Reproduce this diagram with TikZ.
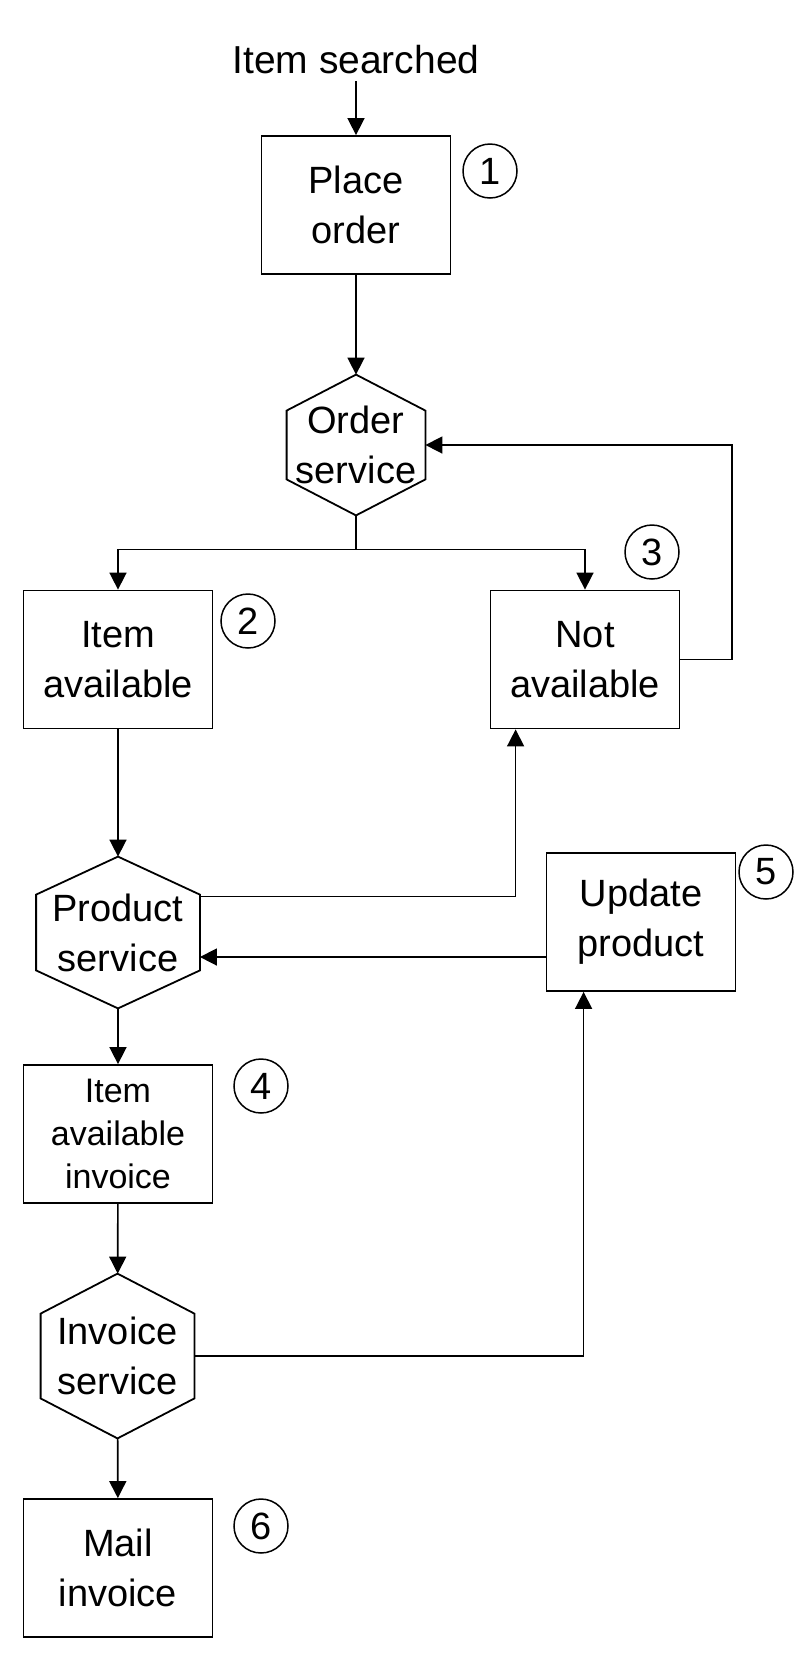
\documentclass[tikz,border=0pt]{standalone}
\usepackage{fontspec}
\setmainfont{Liberation Sans}
\usetikzlibrary{positioning,arrows.meta}

\newcommand{\hexoutline}[2]{%
  \draw[line width=0.9pt] (#1.north) -- ([yshift=-#2]#1.north east) -- ([yshift=#2]#1.south east)
    -- (#1.south) -- ([yshift=#2]#1.south west) -- ([yshift=-#2]#1.north west) -- cycle;}

\begin{document}
\begin{tikzpicture}[x=0.5pt, y=-0.5pt,
  box/.style={draw, line width=0.9pt, minimum width=94.5pt, minimum height=69pt,
              align=center, font=\fontsize{19}{25}\selectfont},
  hexa/.style={align=center, inner sep=0pt, font=\fontsize{19}{25}\selectfont},
  num/.style={draw, circle, line width=0.75pt, minimum size=27pt, inner sep=0pt,
              font=\fontsize{19}{19}\selectfont},
  arr/.style={-{Triangle[length=8.5pt, width=8.5pt]}, line width=0.8pt}]
\useasboundingbox (0,0) rectangle (810,1666);
% main flow
\node[font=\fontsize{19.5}{25}\selectfont] (title) at (356,60) {Item searched};
\node[box] (po) at (356,205) {Place\\order};
\node[hexa, minimum width=69pt, minimum height=70pt] (osvc) at (356,445) {Order\\service};
\node[box] (ia) at (118,659.5) {Item\\available};
\node[box] (na) at (585,659.5) {Not\\available};
\node[hexa, minimum width=81.5pt, minimum height=75.5pt] (psvc) at (118,932.5) {Product\\service};
\node[box] (up) at (641,922) {Update\\product};
\node[box, font=\fontsize{17}{21.5}\selectfont] (iai) at (118,1134) {Item\\available\\invoice};
\node[hexa, minimum width=76.5pt, minimum height=82pt] (isvc) at (117.5,1356) {Invoice\\service};
\node[box] (mi) at (118,1568) {Mail\\invoice};
\hexoutline{osvc}{18pt}
\hexoutline{psvc}{19pt}
\hexoutline{isvc}{20pt}
% step numbers
\node[num] (n1) at (490,171) {1};
\node[num] (n2) at (248,621) {2};
\node[num] (n3) at (652,552) {3};
\node[num] (n4) at (261,1086) {4};
\node[num] (n5) at (766,872) {5};
\node[num] (n6) at (261,1526) {6};
% connectors
\coordinate (br) at (356,549.5);
\coordinate (fb) at (732,445);
\coordinate (upw) at ([yshift=-17.5pt]up.west);
\draw[arr] (title) -- (po);
\draw[arr] (po) -- (osvc);
\draw[line width=0.8pt] (osvc.south) -- (br);
\draw[arr] (br) -| (ia.north);
\draw[arr] (br) -| (na.north);
\draw[arr] (na.east) -| (fb) -- (osvc.east);
\draw[arr] (ia) -- (psvc);
\draw[arr] ([yshift=18pt]psvc.east) -| ([xshift=13pt]na.south west);
\draw[arr] (upw) -- (upw -| psvc.east);
\draw[arr] (psvc) -- (iai);
\draw[arr] (iai) -- (isvc);
\draw[arr] (isvc.east) -| ([xshift=19pt]up.south west);
\draw[arr] (isvc) -- (mi);
\end{tikzpicture}
\end{document}
